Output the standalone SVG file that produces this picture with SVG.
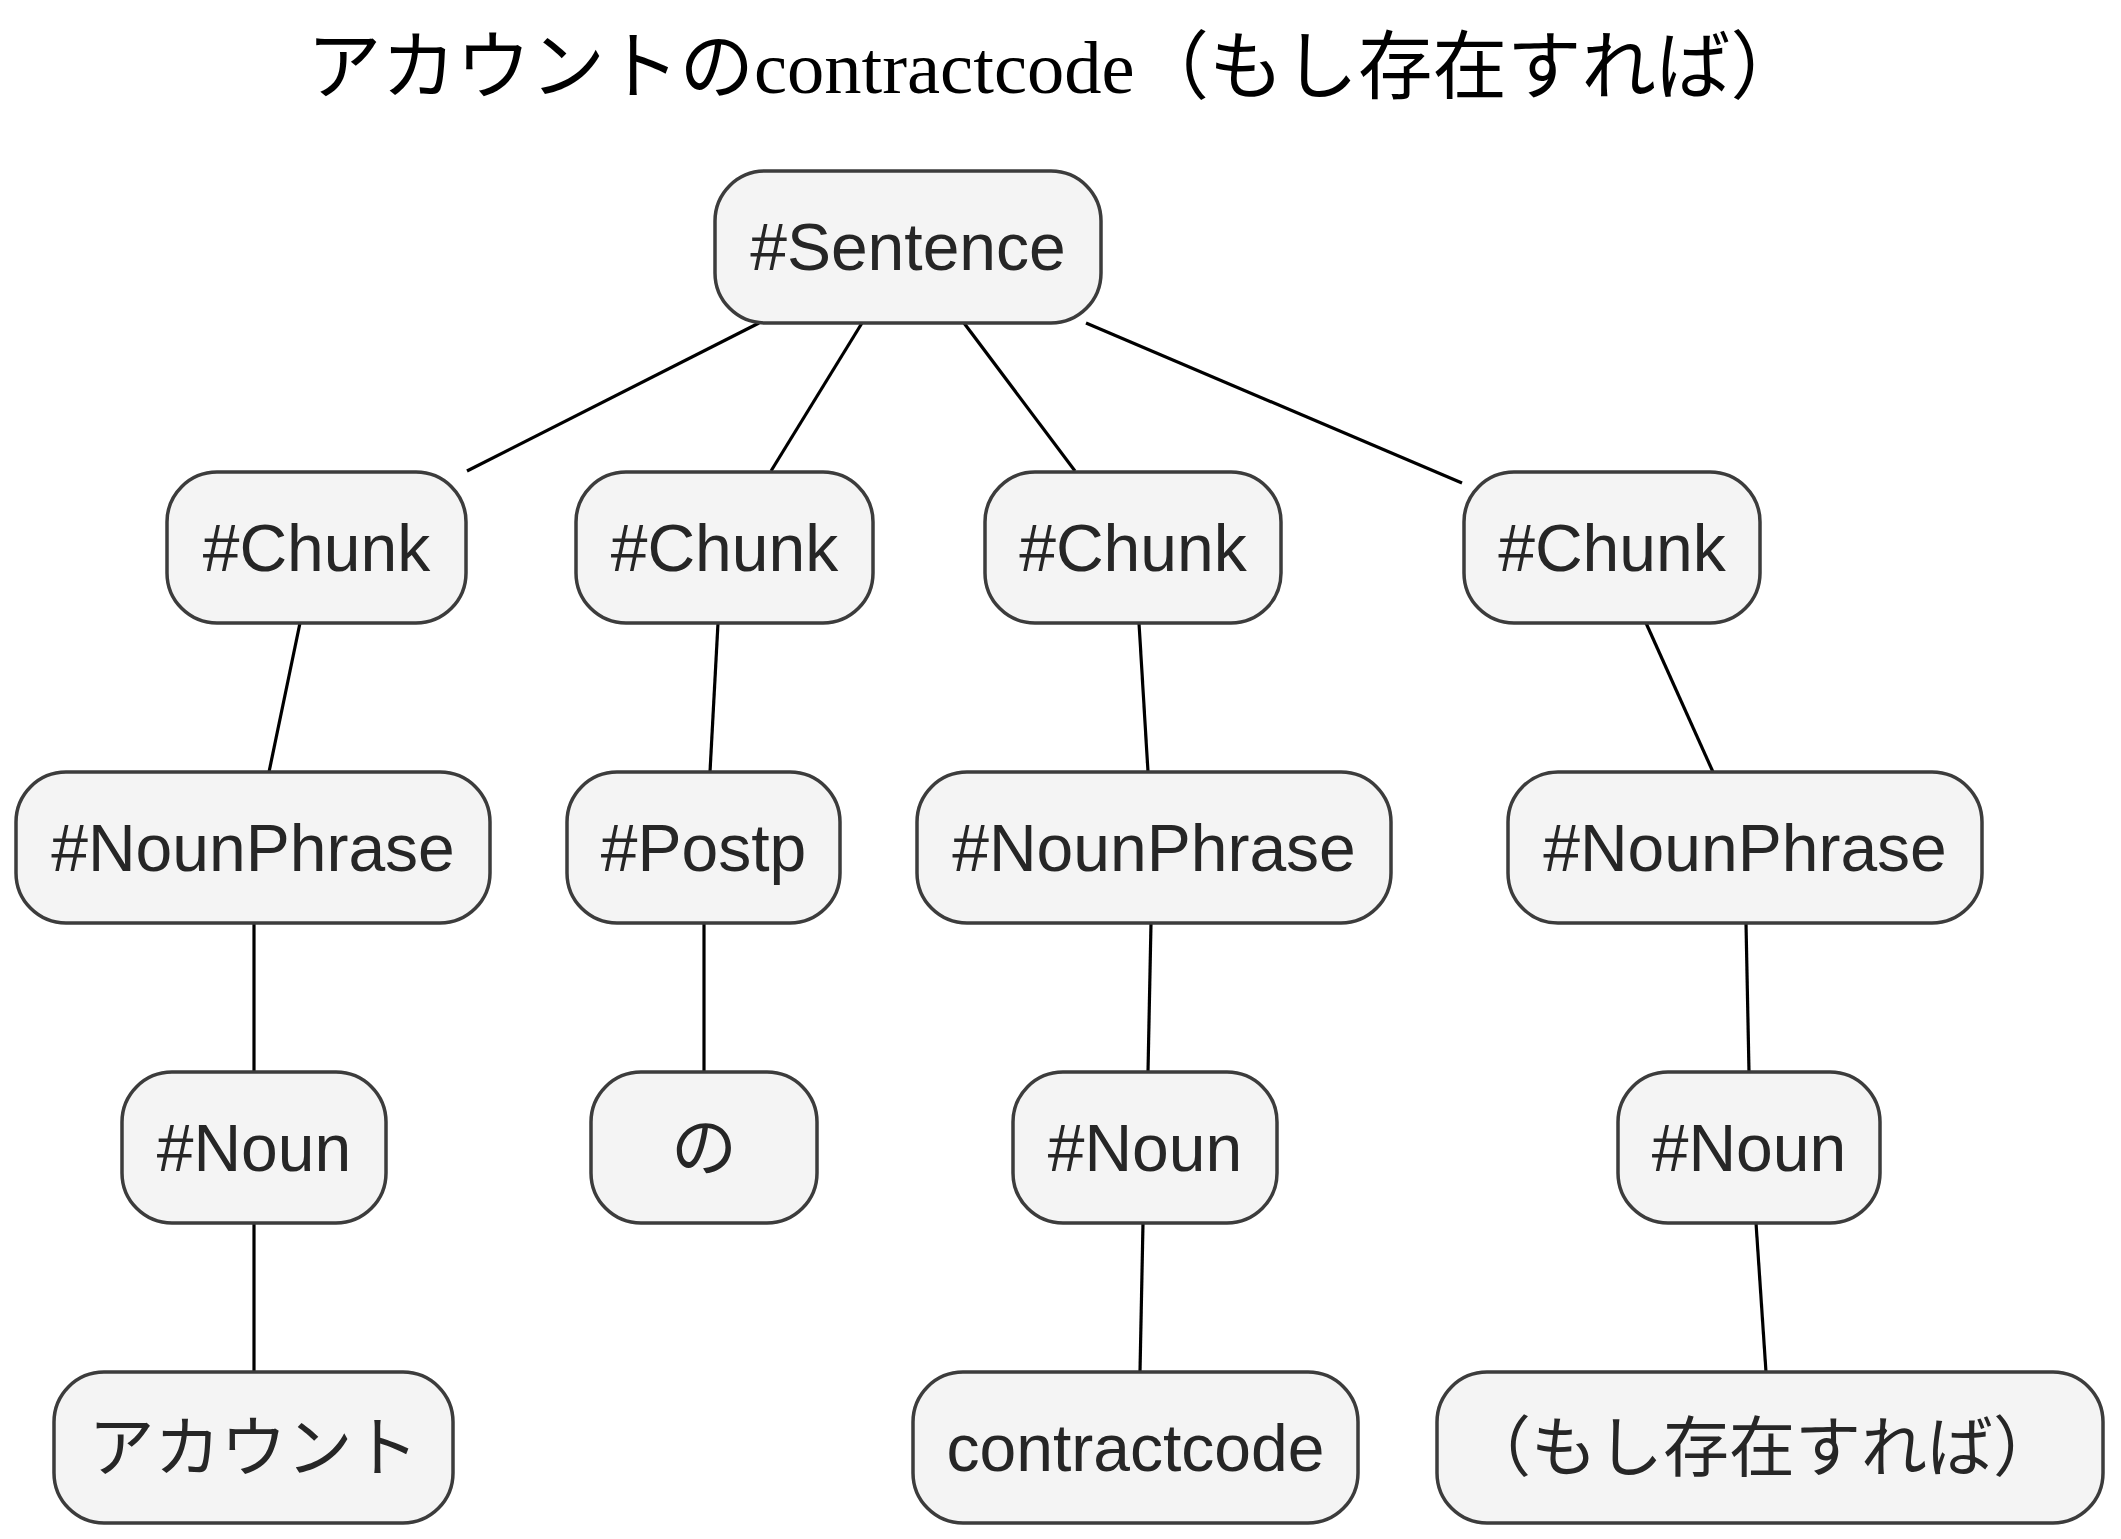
<svg xmlns="http://www.w3.org/2000/svg" width="2121" height="1539" viewBox="0 0 2121 1539">
<style>
.n rect{fill:#f4f4f4;stroke:#3c3c3c;stroke-width:3.5}
.n text{font-family:"Liberation Sans","Noto Sans CJK JP",sans-serif;font-size:66px;fill:#262626;text-anchor:middle}
.e line{stroke:#000;stroke-width:3.2}
.t{font-family:"Liberation Serif","Noto Sans CJK JP",serif;font-size:74.5px;fill:#000;text-anchor:middle}
</style>
<rect width="2121" height="1539" fill="#fff"/>
<text class="t" x="1056" y="93">アカウントのcontractcode（もし存在すれば）</text>
<g class="e" id="edges">
<line x1="759" y1="323" x2="467" y2="471"/>
<line x1="862" y1="323" x2="771" y2="471"/>
<line x1="964" y1="323" x2="1075" y2="471"/>
<line x1="1086" y1="323" x2="1462" y2="483"/>
<line x1="300" y1="623" x2="269" y2="772"/>
<line x1="718" y1="623" x2="710" y2="772"/>
<line x1="1139" y1="623" x2="1148" y2="772"/>
<line x1="1646" y1="623" x2="1713" y2="772"/>
<line x1="254" y1="923" x2="254" y2="1072"/>
<line x1="704" y1="923" x2="704" y2="1072"/>
<line x1="1151" y1="923" x2="1148" y2="1072"/>
<line x1="1746" y1="923" x2="1749" y2="1072"/>
<line x1="254" y1="1223" x2="254" y2="1372"/>
<line x1="1143" y1="1223" x2="1140" y2="1372"/>
<line x1="1756" y1="1223" x2="1766" y2="1372"/>
</g>
<g class="n" id="sentence"><rect x="715" y="171" width="386" height="152" rx="50"/><text x="908" y="270">#Sentence</text></g>
<g class="n" id="chunk1"><rect x="167" y="472" width="299" height="151" rx="50"/><text x="316.5" y="571">#Chunk</text></g>
<g class="n" id="chunk2"><rect x="576" y="472" width="297" height="151" rx="50"/><text x="724.5" y="571">#Chunk</text></g>
<g class="n" id="chunk3"><rect x="985" y="472" width="296" height="151" rx="50"/><text x="1133" y="571">#Chunk</text></g>
<g class="n" id="chunk4"><rect x="1464" y="472" width="296" height="151" rx="50"/><text x="1612" y="571">#Chunk</text></g>
<g class="n" id="np1"><rect x="16" y="772" width="474" height="151" rx="50"/><text x="253" y="871">#NounPhrase</text></g>
<g class="n" id="postp"><rect x="567" y="772" width="273" height="151" rx="50"/><text x="703.5" y="871">#Postp</text></g>
<g class="n" id="np3"><rect x="917" y="772" width="474" height="151" rx="50"/><text x="1154" y="871">#NounPhrase</text></g>
<g class="n" id="np4"><rect x="1508" y="772" width="474" height="151" rx="50"/><text x="1745" y="871">#NounPhrase</text></g>
<g class="n" id="noun1"><rect x="122" y="1072" width="264" height="151" rx="50"/><text x="254" y="1171">#Noun</text></g>
<g class="n" id="no"><rect x="591" y="1072" width="226" height="151" rx="50"/><text x="704" y="1171">の</text></g>
<g class="n" id="noun3"><rect x="1013" y="1072" width="264" height="151" rx="50"/><text x="1145" y="1171">#Noun</text></g>
<g class="n" id="noun4"><rect x="1618" y="1072" width="262" height="151" rx="50"/><text x="1749" y="1171">#Noun</text></g>
<g class="n" id="account"><rect x="54" y="1372" width="399" height="151" rx="50"/><text x="253.5" y="1471">アカウント</text></g>
<g class="n" id="contractcode"><rect x="913" y="1372" width="445" height="151" rx="50"/><text x="1135.5" y="1471">contractcode</text></g>
<g class="n" id="moshi"><rect x="1437" y="1372" width="666" height="151" rx="50"/><text x="1762" y="1471">（もし存在すれば）</text></g>
</svg>
